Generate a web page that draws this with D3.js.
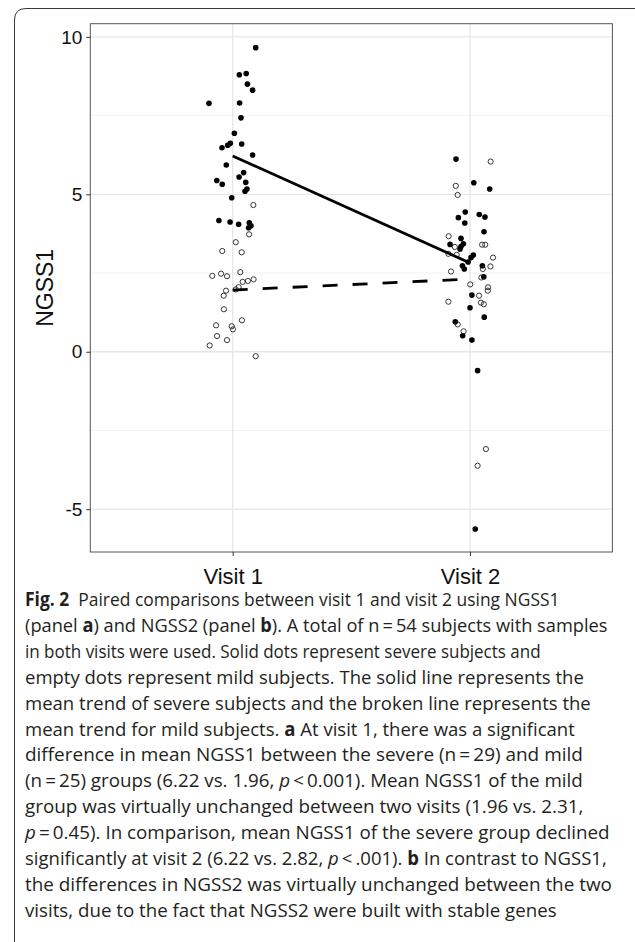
<!DOCTYPE html>
<html>
<head>
<meta charset="utf-8">
<title>NGSS1 visits</title>
<script src="https://cdnjs.cloudflare.com/ajax/libs/d3/7.8.5/d3.min.js"></script>
<style>
  body { margin: 0; background: #fff; }
  svg { display: block; }
</style>
</head>
<body>
<div id="chart"></div>
<script>
// values (NGSS1), jitter in x-axis units
var severeV1 = [9.66, 8.80, 8.84, 8.50, 8.31, 7.89, 7.90, 7.43, 6.94, 6.62, 6.56, 6.48, 6.60, 6.25, 5.93,
                5.55, 5.69, 5.44, 5.32, 5.38, 5.17, 5.10, 4.89, 4.17, 4.12, 4.05, 4.10, 4.00, 3.94];
var severeV1Jit = [0.097, 0.028, 0.057, 0.062, 0.084, -0.100, 0.029, 0.035, 0.007, -0.010, -0.021, -0.045, 0.038, 0.084, -0.027,
                   0.027, 0.046, -0.067, -0.044, 0.055, 0.060, 0.052, -0.004, -0.058, -0.011, 0.025, 0.070, 0.077, 0.067];

var mildV1 = [4.66, 3.73, 3.48, 3.20, 3.16, 2.41, 2.48, 2.40, 2.53, 2.22, 2.25, 2.30, 2.05, 1.94, 1.78,
              1.35, 0.84, 1.00, 0.81, 0.71, 0.50, 0.37, 0.20, -0.14, 1.98];
var mildV1Jit = [0.087, 0.069, 0.013, -0.044, 0.038, -0.086, -0.049, -0.024, 0.032, 0.042, 0.064, 0.088, 0.025, -0.028, -0.038,
                 -0.037, -0.070, 0.039, -0.004, 0.001, -0.066, -0.024, -0.097, 0.097, 0.013];

var severeV2 = [6.12, 5.37, 5.17, 4.44, 4.26, 4.09, 4.36, 4.28, 3.81, 3.60, 3.41, 3.43, 3.34, 3.26, 2.99,
                3.07, 2.73, 2.63, 2.73, 2.38, 1.80, 1.40, 1.10, 0.95, 0.51, 0.37, -0.60, -5.63, 2.85];
var severeV2Jit = [-0.059, 0.016, 0.083, -0.020, -0.049, -0.022, 0.039, 0.063, 0.059, -0.038, -0.084, -0.028, -0.038, -0.042, 0.004,
                   0.014, -0.032, -0.024, 0.052, 0.058, 0.008, 0.000, 0.060, -0.062, -0.031, 0.008, 0.032, 0.022, -0.008];

var mildV2 = [6.04, 5.27, 4.98, 3.67, 3.33, 3.40, 3.40, 3.11, 3.08, 2.99, 2.55, 2.63, 2.71, 2.36, 2.14,
              2.05, 1.94, 1.78, 1.59, 1.56, 1.51, 0.87, 0.65, -3.09, -3.62];
var mildV2Jit = [0.087, -0.060, -0.052, -0.090, -0.064, 0.051, 0.064, -0.091, -0.056, 0.097, -0.080, 0.054, 0.086, 0.048, 0.001,
                 0.076, 0.075, 0.038, -0.091, 0.046, 0.058, -0.052, -0.027, 0.067, 0.032];

// group means reported in the caption
var visits = [1, 2];
var visitLabels = ["Visit 1", "Visit 2"];
var meanSevere = [6.22, 2.82];
var meanMild = [1.96, 2.31];

var yTicks = [-5, 0, 5, 10];
var yMinor = [-2.5, 2.5, 7.5];

var caption = [
  "**Fig. 2**\u00a0\u00a0Paired comparisons between visit 1 and visit 2 using NGSS1",
  "(panel **a**) and NGSS2 (panel **b**). A total of n\u2009=\u200954 subjects with samples",
  "in both visits were used. Solid dots represent severe subjects and",
  "empty dots represent mild subjects. The solid line represents the",
  "mean trend of severe subjects and the broken line represents the",
  "mean trend for mild subjects. **a** At visit 1, there was a significant",
  "difference in mean NGSS1 between the severe (n\u2009=\u200929) and mild",
  "(n\u2009=\u200925) groups (6.22 vs. 1.96, _p_\u2009<\u20090.001). Mean NGSS1 of the mild",
  "group was virtually unchanged between two visits (1.96 vs. 2.31,",
  "_p_\u2009=\u20090.45). In comparison, mean NGSS1 of the severe group declined",
  "significantly at visit 2 (6.22 vs. 2.82, _p_\u2009<\u2009.001). **b** In contrast to NGSS1,",
  "the differences in NGSS2 was virtually unchanged between the two",
  "visits, due to the fact that NGSS2 were built with stable genes"
];
// right edge of each caption line in the figure (layout)
var captionEnds = [560, 608, 541, 584, 591, 575, 583, 583, 584, 610, 607, 612, 557];

var width = 635, height = 942;
var panel = {left: 90.3, right: 612.4, top: 23.7, bottom: 552};

var svg = d3.select("#chart").append("svg")
    .attr("width", width)
    .attr("height", height);

// outer figure frame, rounded top-left corner
svg.append("path")
    .attr("d", "M14.5,942 L14.5,20 Q14.5,8.5 26,8.5 L635,8.5")
    .attr("fill", "none")
    .attr("stroke", "#3a3a3a")
    .attr("stroke-width", 1);

var x = d3.scaleLinear().domain([0.4, 2.6]).range([panel.left, panel.right]);
var y = d3.scaleLinear().domain([-6.36, 10.42]).range([panel.bottom, panel.top]);

var g = svg.append("g");

// grid
g.selectAll(".minor").data(yMinor).enter().append("line")
    .attr("x1", panel.left).attr("x2", panel.right)
    .attr("y1", d => y(d)).attr("y2", d => y(d))
    .attr("stroke", "#f2f2f2").attr("stroke-width", 1);
g.selectAll(".major").data(yTicks).enter().append("line")
    .attr("x1", panel.left).attr("x2", panel.right)
    .attr("y1", d => y(d)).attr("y2", d => y(d))
    .attr("stroke", "#e6e6e6").attr("stroke-width", 1.3);
g.selectAll(".vmajor").data(visits).enter().append("line")
    .attr("x1", d => x(d)).attr("x2", d => x(d))
    .attr("y1", panel.top).attr("y2", panel.bottom)
    .attr("stroke", "#e6e6e6").attr("stroke-width", 1.3);

function pts(vals, jit, visit) {
  return vals.map(function(v, i) { return {x: visit + jit[i], y: v}; });
}

var filled = pts(severeV1, severeV1Jit, 1).concat(pts(severeV2, severeV2Jit, 2));
var hollow = pts(mildV1, mildV1Jit, 1).concat(pts(mildV2, mildV2Jit, 2));

g.selectAll(".sev").data(filled).enter().append("circle")
    .attr("cx", d => x(d.x)).attr("cy", d => y(d.y))
    .attr("r", 2.8).attr("fill", "#000");

g.selectAll(".mild").data(hollow).enter().append("circle")
    .attr("cx", d => x(d.x)).attr("cy", d => y(d.y))
    .attr("r", 2.6).attr("fill", "none")
    .attr("stroke", "#222").attr("stroke-width", 0.9);

// mean trend lines
var line = d3.line().x(d => x(d[0])).y(d => y(d[1]));
g.append("path")
    .datum(visits.map((v, i) => [v, meanSevere[i]]))
    .attr("d", line)
    .attr("fill", "none").attr("stroke", "#000").attr("stroke-width", 2.8);
g.append("path")
    .datum(visits.map((v, i) => [v, meanMild[i]]))
    .attr("d", line)
    .attr("fill", "none").attr("stroke", "#000").attr("stroke-width", 2.8)
    .attr("stroke-dasharray", "15,15");

// panel border
g.append("rect")
    .attr("x", panel.left).attr("y", panel.top)
    .attr("width", panel.right - panel.left).attr("height", panel.bottom - panel.top)
    .attr("fill", "none").attr("stroke", "#555").attr("stroke-width", 1);

// axes
var yAxis = svg.append("g")
    .attr("transform", "translate(" + panel.left + ",0)")
    .call(d3.axisLeft(y).tickValues(yTicks).tickSize(4).tickPadding(4).tickFormat(d => String(d)));
yAxis.select(".domain").remove();
yAxis.selectAll("line").attr("stroke", "#333");
yAxis.selectAll("text")
    .attr("fill", "#111")
    .style("font-family", "'Liberation Sans', Arial, sans-serif")
    .style("font-size", "19px");

var xAxis = svg.append("g")
    .attr("transform", "translate(0," + panel.bottom + ")")
    .call(d3.axisBottom(x).tickValues(visits).tickSize(4).tickPadding(12)
      .tickFormat((d, i) => visitLabels[i]));
xAxis.select(".domain").remove();
xAxis.selectAll("line").attr("stroke", "#333");
xAxis.selectAll("text")
    .attr("fill", "#111")
    .style("font-family", "'Liberation Sans', Arial, sans-serif")
    .style("font-size", "22px");

svg.append("text")
    .attr("transform", "translate(53," + ((panel.top + panel.bottom) / 2) + ") rotate(-90)")
    .attr("text-anchor", "middle")
    .attr("fill", "#111")
    .style("font-family", "'Liberation Sans', Arial, sans-serif")
    .style("font-size", "23px")
    .text("NGSS1");

// caption: natural width, then squeezed to the figure's line length
var capX = 25, capY0 = 606, capStep = 25.9;
caption.forEach(function(txt, i) {
  var row = svg.append("g");
  var t = row.append("text")
      .attr("x", 0)
      .attr("y", 0)
      .attr("fill", "#231f20")
      .style("font-family", "'Open Sans', sans-serif")
      .style("font-size", "19px");
  var parts = txt.split(/(\*\*[^*]+\*\*|_[^_]+_)/);
  parts.forEach(function(p) {
    if (!p) return;
    var s = t.append("tspan");
    if (p.startsWith("**")) {
      s.attr("font-weight", "bold").text(p.slice(2, -2));
    } else if (p.startsWith("_")) {
      s.attr("font-style", "italic").text(p.slice(1, -1));
    } else {
      s.text(p);
    }
  });
  var w = t.node().getComputedTextLength();
  var sx = (captionEnds[i] - capX) / w;
  row.attr("transform", "translate(" + capX + "," + (capY0 + i * capStep) + ") scale(" + sx + ",1)");
});
</script>
</body>
</html>
